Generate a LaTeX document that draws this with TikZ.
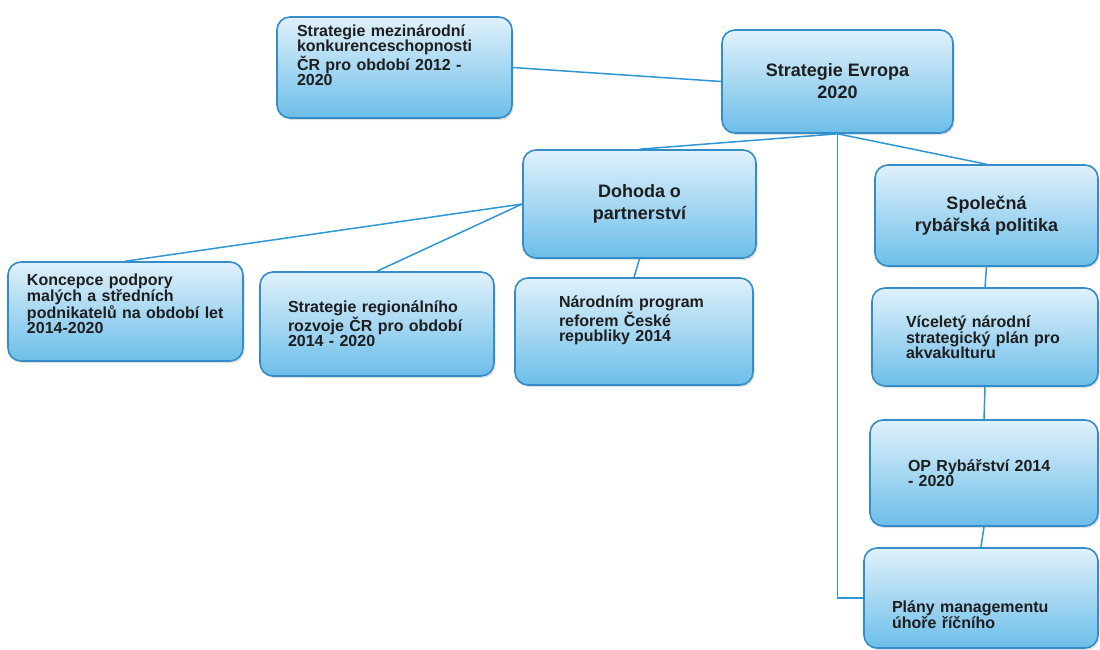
\documentclass[tikz,border=0pt]{standalone}
\usepackage{fontspec}
\setmainfont{Liberation Sans}
\usetikzlibrary{positioning, shadows}

\definecolor{boxtop}{RGB}{224,241,251}
\definecolor{boxbottom}{RGB}{108,190,233}
\definecolor{boxline}{RGB}{52,140,200}
\definecolor{linkline}{RGB}{45,150,212}
\definecolor{boxtext}{RGB}{30,30,30}

\begin{document}
\begin{tikzpicture}[x=1pt, y=-1pt,
                box/.style={rectangle, rounded corners=13pt, draw=boxline, line width=1.6pt, top color=boxtop, bottom color=boxbottom, text=boxtext, drop shadow={opacity=0.25, shadow xshift=1.5pt, shadow yshift=-2pt}},
                smallbox/.style={box, align=left, inner sep=0pt, font=\fontsize{16}{15}\selectfont\bfseries},
                bigbox/.style={box, align=center, font=\fontsize{18}{22}\selectfont\bfseries},
                link/.style={draw=linkline, line width=1.5pt},
                ]
                \useasboundingbox (0,0) rectangle (1100,649);
                %Nodes
                \node[smallbox, minimum width=235pt, minimum height=101pt, text width=195pt] (mezinarodni) at (394.5,67.5) {Strategie mezinárodní\\konkurenceschopnosti\\ČR pro období 2012 -\\2020\par\vspace*{24pt}};
                \node[bigbox, minimum width=231pt, minimum height=103pt]      (evropa)     at (837.5,81.5)  {Strategie Evropa\\2020};
                \node[bigbox, minimum width=233pt, minimum height=108pt]      (dohoda)     at (639.5,204)   {Dohoda o\\partnerství};
                \node[bigbox, minimum width=223pt, minimum height=101pt]      (rybarska)   at (986.5,215.5) {Společná\\rybářská politika};
                \node[smallbox, minimum width=235pt, minimum height=99pt, text width=197pt]  (koncepce)   at (125.5,311.5) {Koncepce podpory\\malých a středních\\podnikatelů na období let\\2014-2020\par\vspace*{16pt}};
                \node[smallbox, minimum width=234pt, minimum height=104pt, text width=178pt] (regionalni) at (377,324)     {Strategie regionálního\\rozvoje ČR pro období\\2014 - 2020};
                \node[smallbox, minimum width=238pt, minimum height=107pt, text width=150pt] (narodni)    at (634,331.5)   {Národním program\\reforem České\\republiky 2014\par\vspace*{22pt}};
                \node[smallbox, minimum width=226pt, minimum height=98pt, text width=158pt]  (akvakultura) at (985,337)    {Víceletý národní\\strategický plán pro\\akvakulturu};
                \node[smallbox, minimum width=228pt, minimum height=106pt, text width=152pt] (oprybarstvi) at (984,473)    {OP Rybářství 2014\\- 2020};
                \node[smallbox, minimum width=234pt, minimum height=100pt, text width=178pt] (plany)      at (981,598)     {\mbox{}\\[30pt]Plány managementu\\úhoře říčního};

                %Lines
                \draw[link] (mezinarodni.east) -- (evropa.west);
                \draw[link] (evropa.south) -- (dohoda.north);
                \draw[link] (evropa.south) -- (rybarska.north);
                \draw[link] (evropa.south) |- (plany.west);
                \draw[link] (dohoda.west) -- (koncepce.north);
                \draw[link] (dohoda.west) -- (regionalni.north);
                \draw[link] (dohoda.south) -- (narodni.north);
                \draw[link] (rybarska.south) -- (akvakultura.north);
                \draw[link] (akvakultura.south) -- (oprybarstvi.north);
                \draw[link] (oprybarstvi.south) -- (plany.north);
\end{tikzpicture}
\end{document}
